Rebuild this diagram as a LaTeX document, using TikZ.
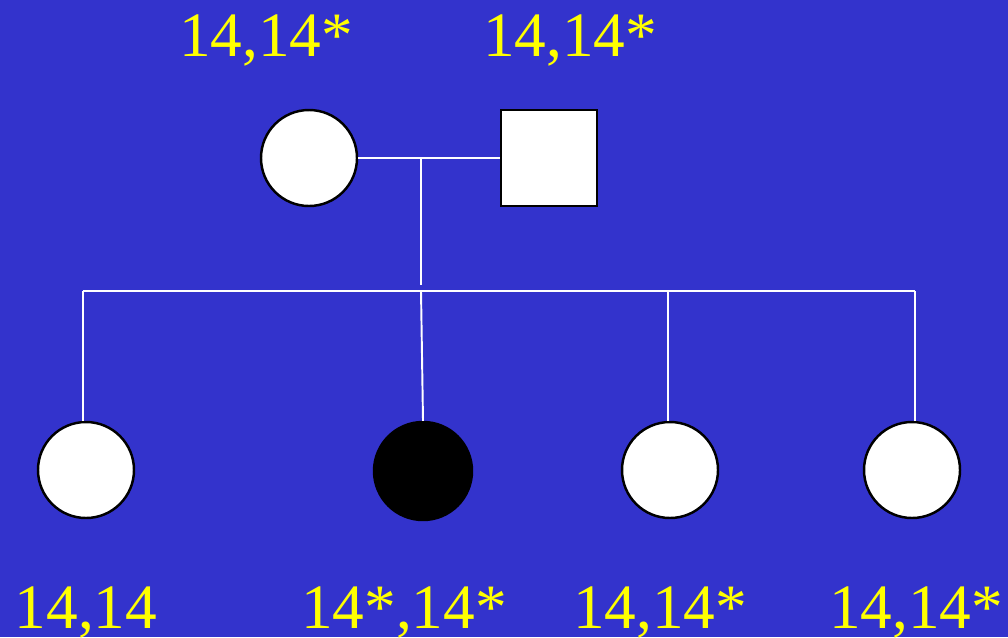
\documentclass[tikz,border=0pt]{standalone}
\usepackage{fontspec}
\setmainfont{Liberation Serif}
\usepackage{xcolor}
\usepackage{tikz}
\usetikzlibrary{positioning,calc}
\definecolor{pedbg}{HTML}{3333CC}
\definecolor{pedlab}{HTML}{FFFF00}

\begin{document}
\begin{tikzpicture}[x=1cm,y=1cm,
    female/.style={circle, draw=black, line width=0.7pt, fill=white, minimum size=0.96cm, inner sep=0pt},
    affected/.style={female, fill=black, minimum size=0.98cm},
    male/.style={rectangle, draw=black, line width=0.8pt, fill=white, minimum size=0.96cm, inner sep=0pt},
    link/.style={white, line width=0.55pt},
    geno/.style={text=pedlab, font=\fontsize{18}{22}\selectfont, anchor=base, inner sep=0pt}]
  \fill[pedbg] (0,0) rectangle (10.08,6.37);
  \useasboundingbox (0,0) rectangle (10.08,6.37);
  % parents
  \node[female] (mom) at (3.09,4.79) {};
  \node[male] (dad) at (5.49,4.79) {};
  \node[geno] (gmom) at (2.66,5.81) {14,14*};
  \node[geno] (gdad) at (5.70,5.81) {14,14*};
  % children
  \node[female] (c1) at (0.86,1.67) {};
  \node[affected] (c2) at (4.23,1.66) {};
  \node[female] (c3) at (6.70,1.67) {};
  \node[female] (c4) at (9.12,1.67) {};
  \node[geno] (g1) at (0.86,0.09) {14,14};
  \node[geno] (g2) at (4.04,0.09) {14*,14*};
  \node[geno] (g3) at (6.60,0.09) {14,14*};
  \node[geno] (g4) at (9.16,0.09) {14,14*};
  % lines
  \coordinate (mid) at (4.21,4.79);
  \coordinate (drop) at (4.21,3.52);
  \coordinate (s1) at (0.83,3.46);
  \coordinate (s2) at (4.21,3.46);
  \coordinate (s3) at (6.68,3.46);
  \coordinate (s4) at (9.15,3.46);
  \draw[link] (mom.east) -- (dad.west);
  \draw[link] (mid) -- (drop);
  \draw[link] (s1) -- (s4);
  \draw[link] (s1) -- (s1 |- c1.north);
  \draw[link] (s2) -- (c2.north);
  \draw[link] (s3) -- (s3 |- c3.north);
  \draw[link] (s4) -- (s4 |- c4.north);
\end{tikzpicture}
\end{document}
